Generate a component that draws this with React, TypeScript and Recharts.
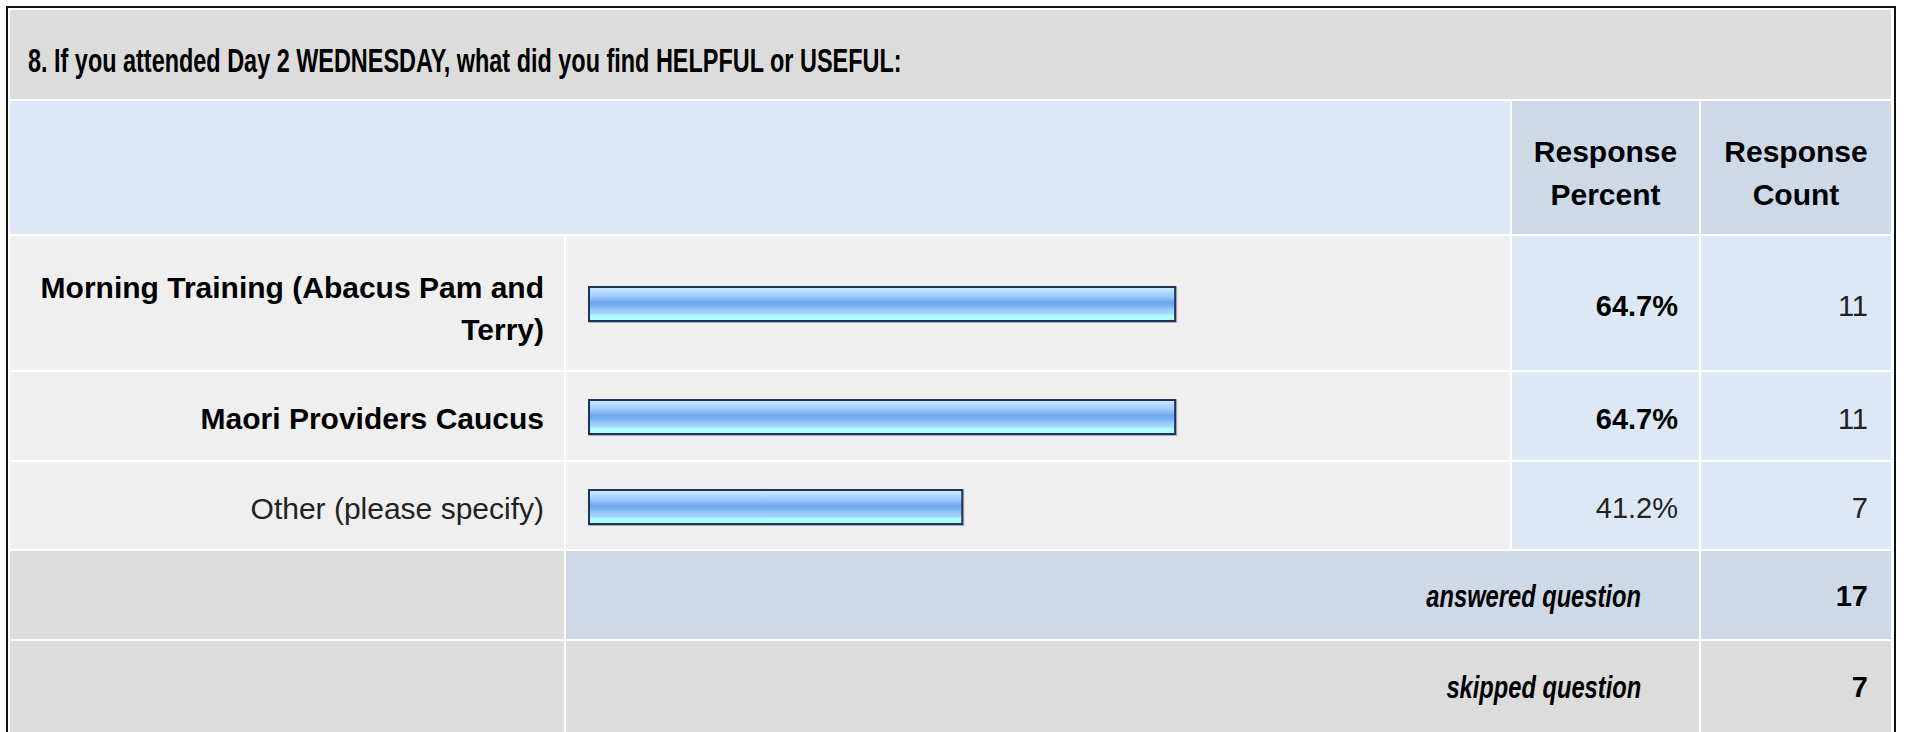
import React from 'react';
import { BarChart, Bar, XAxis, YAxis } from 'recharts';

const questionTitle = '8. If you attended Day 2 WEDNESDAY, what did you find HELPFUL or USEFUL:';
const headerPercent = 'Response Percent';
const headerCount = 'Response Count';
const categories = ['Morning Training (Abacus Pam and Terry)', 'Maori Providers Caucus', 'Other (please specify)'];
const percents = [64.7, 64.7, 41.2];
const counts = [11, 11, 7];
const boldRows = [true, true, false];
const answeredLabel = 'answered question';
const answeredCount = 17;
const skippedLabel = 'skipped question';
const skippedCount = 7;

const FONT = "'Liberation Sans', Arial, Helvetica, sans-serif";

// layout (pixels)
const COLS = { labelX: 10, labelW: 554, barX: 566, barW: 944, pctX: 1512, pctW: 187, cntX: 1701, cntW: 190 };
const TITLE = { y: 10, h: 89 };
const HEAD = { y: 101, h: 133 };
const ROWS = [
  { y: 236, h: 134 },
  { y: 372, h: 88 },
  { y: 462, h: 87 },
];
const ANS = { y: 551, h: 88 };
const SKIP = { y: 641, h: 100 };

const C = {
  gray: '#dcdcdc',
  light: '#efefef',
  blue: '#dce8f5',
  blueDark: '#cdd9e7',
};

type CellProps = {
  x: number; y: number; w: number; h: number; bg: string;
  align?: 'left' | 'right' | 'center'; padL?: number; padR?: number; padT?: number;
  children?: React.ReactNode; style?: React.CSSProperties;
};

function Cell({ x, y, w, h, bg, align = 'right', padL = 10, padR = 20, padT = 0, children, style }: CellProps) {
  return (
    <div
      style={{
        position: 'absolute', left: x, top: y, width: w, height: h, background: bg,
        display: 'flex', alignItems: 'center',
        justifyContent: align === 'right' ? 'flex-end' : align === 'center' ? 'center' : 'flex-start',
        boxSizing: 'border-box', paddingLeft: padL, paddingRight: padR, paddingTop: padT, textAlign: align,
        fontFamily: FONT, ...style,
      }}
    >
      {children}
    </div>
  );
}

function BarShape(props: any) {
  const { x, y, width, height, fill } = props;
  if (!width || width <= 0) return null;
  return (
    <g>
      <rect x={x} y={y} width={width + 1.5} height={height + 1.5} fill="none" stroke="#a7b1bd" strokeWidth={1} />
      <rect x={x} y={y} width={width} height={height} fill={fill} stroke="#1e3456" strokeWidth={2} />
    </g>
  );
}

function RowBar({ index }: { index: number }) {
  const row = ROWS[index];
  const data = [{ name: categories[index], value: percents[index] }];
  const gid = `barGrad${index}`;
  return (
    <div style={{ position: 'absolute', left: COLS.barX, top: row.y, width: COLS.barW, height: row.h }}>
      <BarChart width={COLS.barW} height={row.h} layout="vertical" data={data}
        margin={{ top: 2, right: 15, bottom: 0, left: 23 }}>
        <defs>
          <linearGradient id={gid} x1="0" y1="0" x2="0" y2="1">
            <stop offset="0" stopColor="#d2eaff" />
            <stop offset="0.12" stopColor="#badefe" />
            <stop offset="0.25" stopColor="#a0cefb" />
            <stop offset="0.37" stopColor="#86b8f5" />
            <stop offset="0.45" stopColor="#70a6ef" />
            <stop offset="0.55" stopColor="#79aff2" />
            <stop offset="0.66" stopColor="#94c6fa" />
            <stop offset="0.78" stopColor="#a3d8fe" />
            <stop offset="0.84" stopColor="#b0fbff" />
            <stop offset="1" stopColor="#b2ffff" />
          </linearGradient>
        </defs>
        <XAxis type="number" domain={[0, 100]} hide />
        <YAxis type="category" dataKey="name" hide />
        <Bar dataKey="value" barSize={34} fill={`url(#${gid})`} isAnimationActive={false} shape={<BarShape />} />
      </BarChart>
    </div>
  );
}

const condensed = (origin: string, k: number): React.CSSProperties => ({
  display: 'inline-block', transform: `scaleX(${k})`, transformOrigin: origin, whiteSpace: 'nowrap',
});

export default function App() {
  return (
    <div style={{ position: 'absolute', left: 0, top: 0, width: 1907, height: 732, overflow: 'hidden', background: '#ffffff' }}>
      <div style={{ position: 'absolute', left: 6, top: 6, width: 1890, height: 800, border: '2px solid #111', boxSizing: 'border-box', background: '#fff' }} />

      {/* title row */}
      <Cell x={10} y={TITLE.y} w={1881} h={TITLE.h} bg={C.gray} align="left" padL={18} padR={0} padT={12}
        style={{ fontWeight: 700, fontSize: 33, color: '#000' }}>
        <span style={condensed('left center', 0.71)}>{questionTitle}</span>
      </Cell>

      {/* header row */}
      <Cell x={COLS.labelX} y={HEAD.y} w={COLS.pctX - 2 - COLS.labelX} h={HEAD.h} bg={C.blue} />
      <Cell x={COLS.pctX} y={HEAD.y} w={COLS.pctW} h={HEAD.h} bg={C.blueDark} align="center" padL={0} padR={0} padT={10}
        style={{ fontWeight: 700, fontSize: 30, lineHeight: '43px', color: '#000' }}>
        {headerPercent}
      </Cell>
      <Cell x={COLS.cntX} y={HEAD.y} w={COLS.cntW} h={HEAD.h} bg={C.blueDark} align="center" padL={0} padR={0} padT={10}
        style={{ fontWeight: 700, fontSize: 30, lineHeight: '43px', color: '#000' }}>
        {headerCount}
      </Cell>

      {/* data rows */}
      {categories.map((cat, i) => {
        const r = ROWS[i];
        const weight = boldRows[i] ? 700 : 400;
        const pt = i === 0 ? 12 : 6;
        return (
          <React.Fragment key={cat}>
            <Cell x={COLS.labelX} y={r.y} w={COLS.labelW} h={r.h} bg={C.light} padL={10} padR={20} padT={pt}
              style={{ fontWeight: weight, fontSize: 30, lineHeight: '42px', color: boldRows[i] ? '#000' : '#222' }}>
              {cat}
            </Cell>
            <Cell x={COLS.barX} y={r.y} w={COLS.barW} h={r.h} bg={C.light} />
            <RowBar index={i} />
            <Cell x={COLS.pctX} y={r.y} w={COLS.pctW} h={r.h} bg={C.blue} padR={21} padT={6}
              style={{ fontWeight: weight, fontSize: 29, color: boldRows[i] ? '#000' : '#222' }}>
              {percents[i].toFixed(1)}%
            </Cell>
            <Cell x={COLS.cntX} y={r.y} w={COLS.cntW} h={r.h} bg={C.blue} padR={23} padT={6}
              style={{ fontWeight: 400, fontSize: 29, color: '#222' }}>
              {counts[i]}
            </Cell>
          </React.Fragment>
        );
      })}

      {/* answered row */}
      <Cell x={COLS.labelX} y={ANS.y} w={COLS.labelW} h={ANS.h} bg={C.gray} />
      <Cell x={COLS.barX} y={ANS.y} w={COLS.cntX - 2 - COLS.barX} h={ANS.h} bg={C.blueDark} padR={58} padT={2}
        style={{ fontWeight: 700, fontStyle: 'italic', fontSize: 32, color: '#000' }}>
        <span style={condensed('right center', 0.74)}>{answeredLabel}</span>
      </Cell>
      <Cell x={COLS.cntX} y={ANS.y} w={COLS.cntW} h={ANS.h} bg={C.blueDark} padR={23} padT={2}
        style={{ fontWeight: 700, fontSize: 29, color: '#000' }}>
        {answeredCount}
      </Cell>

      {/* skipped row */}
      <Cell x={COLS.labelX} y={SKIP.y} w={COLS.labelW} h={SKIP.h} bg={C.gray} />
      <Cell x={COLS.barX} y={SKIP.y} w={COLS.cntX - 2 - COLS.barX} h={SKIP.h} bg={C.gray} padR={58} padT={28}
        style={{ fontWeight: 700, fontStyle: 'italic', fontSize: 32, color: '#000', alignItems: 'flex-start' }}>
        <span style={condensed('right center', 0.74)}>{skippedLabel}</span>
      </Cell>
      <Cell x={COLS.cntX} y={SKIP.y} w={COLS.cntW} h={SKIP.h} bg={C.gray} padR={23} padT={30}
        style={{ fontWeight: 700, fontSize: 29, color: '#000', alignItems: 'flex-start' }}>
        {skippedCount}
      </Cell>
    </div>
  );
}
